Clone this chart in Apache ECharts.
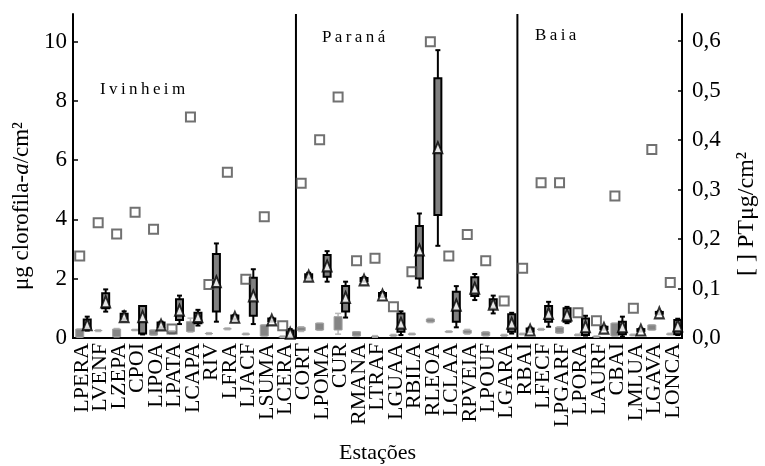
<!DOCTYPE html>
<html>
<head>
<meta charset="utf-8">
<script src="https://cdn.jsdelivr.net/npm/echarts@6/dist/echarts.min.js"></script>
<style>
  html, body { margin: 0; padding: 0; background: #fff; }
  #chart { width: 765px; height: 466px; }
</style>
</head>
<body>
<div id="chart"></div>
<script>
// estações (Ivinheim 0-11, Paraná 12-23, Baia 24-32)
var stations = ['LPERA', 'LVENF', 'LZEPA', 'CPOI', 'LIPOA', 'LPATA', 'LCAPA', 'RIV', 'LFRA', 'LJACF', 'LSUMA', 'LCERA',
    'CORT', 'LPOMA', 'CUR', 'RMANA', 'LTRAF', 'LGUAA', 'RBILA', 'RLEOA', 'LCLAA', 'RPVEIA', 'LPOUF', 'LGARA',
    'RBAI', 'LFECF', 'LPGARF', 'LPORA', 'LAURF', 'CBAI', 'LMLUA', 'LGAVA', 'LONCA'];

// clorofila-a (caixa escura)
var chlMin = [0.25, 0.89, 0.60, 0.12, 0.33, 0.47, 0.42, 0.55, 0.62, 0.47, 0.55, 0.00,
    2.00, 1.90, 0.69, 1.90, 1.38, 0.10, 1.70, 3.11, 0.36, 1.28, 0.83, 0.15,
    0.20, 0.38, 0.50, 0.08, 0.28, 0.05, 0.22, 0.80, 0.10];
var chlQ1 = [0.32, 1.00, 0.65, 0.15, 0.36, 0.61, 0.50, 0.89, 0.65, 0.75, 0.57, 0.02,
    2.03, 2.07, 0.89, 1.92, 1.40, 0.21, 2.01, 4.15, 0.55, 1.42, 1.00, 0.21,
    0.22, 0.55, 0.55, 0.10, 0.30, 0.13, 0.24, 0.82, 0.13];
var chlQ3 = [0.62, 1.51, 0.82, 1.08, 0.52, 1.31, 0.85, 2.83, 0.76, 2.03, 0.66, 0.25,
    2.15, 2.80, 1.75, 2.02, 1.52, 0.83, 3.78, 8.76, 1.56, 2.05, 1.31, 0.80,
    0.32, 1.08, 1.00, 0.66, 0.38, 0.55, 0.30, 0.88, 0.61];
var chlMax = [0.72, 1.64, 0.90, 1.08, 0.55, 1.43, 0.95, 3.19, 0.78, 2.32, 0.68, 0.30,
    2.20, 2.93, 1.90, 2.05, 1.55, 0.90, 4.20, 9.71, 1.75, 2.16, 1.43, 0.85,
    0.35, 1.22, 1.05, 0.75, 0.40, 0.72, 0.32, 0.90, 0.65];
var chlMedian = [0.45, 1.22, 0.72, 0.72, 0.44, 0.94, 0.72, 1.90, 0.70, 1.42, 0.61, 0.16,
    2.09, 2.43, 1.37, 1.96, 1.45, 0.50, 2.97, 6.42, 1.11, 1.68, 1.14, 0.50,
    0.27, 0.83, 0.78, 0.38, 0.33, 0.38, 0.27, 0.85, 0.41];

// caixa cinza
var grayMin = [0.03, 0.22, 0.04, 0.25, 0.10, 0.14, 0.20, 0.12, 0.28, 0.11, 0.07, 0.02,
    0.22, 0.26, 0.13, 0.07, 0.03, 0.06, 0.11, 0.52, 0.19, 0.13, 0.07, 0.06,
    0.11, 0.26, 0.16, 0.08, 0.03, 0.07, 0.08, 0.27, 0.11];
var grayQ1 = [0.03, 0.25, 0.05, 0.27, 0.10, 0.16, 0.22, 0.15, 0.31, 0.13, 0.07, 0.04,
    0.25, 0.27, 0.27, 0.07, 0.05, 0.09, 0.13, 0.54, 0.21, 0.16, 0.08, 0.09,
    0.13, 0.29, 0.17, 0.10, 0.05, 0.07, 0.10, 0.27, 0.13];
var grayQ3 = [0.30, 0.25, 0.30, 0.27, 0.27, 0.22, 0.55, 0.15, 0.31, 0.13, 0.44, 0.04,
    0.36, 0.50, 0.72, 0.21, 0.05, 0.09, 0.13, 0.64, 0.21, 0.26, 0.20, 0.09,
    0.13, 0.29, 0.36, 0.10, 0.05, 0.50, 0.10, 0.44, 0.13];
var grayMax = [0.30, 0.28, 0.32, 0.29, 0.27, 0.24, 0.67, 0.18, 0.34, 0.16, 0.44, 0.07,
    0.38, 0.50, 0.83, 0.21, 0.08, 0.12, 0.16, 0.66, 0.24, 0.29, 0.21, 0.12,
    0.16, 0.32, 0.38, 0.13, 0.07, 0.50, 0.13, 0.44, 0.16];

// PT (quadrados abertos, eixo da direita)
var ptValues = [0.166, 0.233, 0.210, 0.254, 0.220, 0.018, 0.447, 0.108, 0.335, 0.119, 0.245, 0.025,
    0.313, 0.401, 0.487, 0.156, 0.161, 0.063, 0.134, 0.599, 0.166, 0.209, 0.156, 0.075,
    0.141, 0.314, 0.314, 0.051, 0.035, 0.287, 0.060, 0.381, 0.112];

// divisões entre as regiões (índice da primeira estação)
var regionStarts = [12, 24];
var regionNames = ['I\u2009v\u2009i\u2009n\u2009h\u2009e\u2009i\u2009m', 'P\u2009a\u2009r\u2009a\u2009n\u2009á', 'B\u2009a\u2009i\u2009a'];

var SERIF = 'Liberation Serif';
var DARK_SHIFT = 5;
var GRAY_SHIFT = -2.5;

var darkData = stations.map(function (s, i) {
    return [i, chlMin[i], chlQ1[i], chlQ3[i], chlMax[i]];
});
var grayData = stations.map(function (s, i) {
    return [i, grayMin[i], grayQ1[i], grayQ3[i], grayMax[i]];
});
var sepData = regionStarts.map(function (i) { return [i, 0]; });

// desenha uma caixa com bigodes
function boxItem(api, shift, st) {
    var i = api.value(0);
    var x = api.coord([i, 0])[0] + shift;
    var yMin = api.coord([i, api.value(1)])[1];
    var yQ1 = api.coord([i, api.value(2)])[1];
    var yQ3 = api.coord([i, api.value(3)])[1];
    var yMax = api.coord([i, api.value(4)])[1];
    var ws = { stroke: st.whisker, lineWidth: st.wLine };
    var h = st.cap / 2;
    return {
        type: 'group',
        children: [
            { type: 'line', shape: { x1: x, y1: yMax, x2: x, y2: yQ3 }, style: ws },
            { type: 'line', shape: { x1: x, y1: yQ1, x2: x, y2: yMin }, style: ws },
            { type: 'line', shape: { x1: x - h, y1: yMax, x2: x + h, y2: yMax }, style: ws },
            { type: 'line', shape: { x1: x - h, y1: yMin, x2: x + h, y2: yMin }, style: ws },
            {
                type: 'rect',
                shape: { x: x - st.width / 2, y: yQ3, width: st.width, height: Math.max(yQ1 - yQ3, 0) },
                style: { fill: st.fill, stroke: st.stroke, lineWidth: st.bLine }
            }
        ]
    };
}

var myChart = echarts.init(document.getElementById('chart'));
var option = {
    animation: false,
    grid: { left: 73, right: 83, top: 14, bottom: 128, outerBoundsMode: 'none' },
    xAxis: [{
        type: 'category',
        data: stations,
        name: 'Estações',
        nameLocation: 'middle',
        nameGap: 104,
        nameTextStyle: { fontFamily: SERIF, fontSize: 22, color: '#000' },
        axisLine: { lineStyle: { color: '#000', width: 2 } },
        axisTick: { inside: true, length: 4, lineStyle: { color: '#000', width: 1.5 } },
        axisLabel: {
            interval: 0, rotate: 90, margin: 5, padding: [6, 0, 0, 0],
            fontFamily: SERIF, fontSize: 22, color: '#000'
        }
    }, {
        type: 'category',
        data: stations,
        position: 'top',
        axisLine: { lineStyle: { color: '#000', width: 2 } },
        axisTick: { inside: true, length: 4, lineStyle: { color: '#000', width: 1.5 } },
        axisLabel: { show: false }
    }],
    yAxis: [{
        type: 'value',
        min: 0,
        max: 10.93,
        interval: 2,
        name: '{n|μg clorofila-}{i|a}{n|/cm²}',
        nameLocation: 'middle',
        nameRotate: 90,
        nameGap: 38,
        nameTextStyle: {
            padding: [0, 60, 0, 0],
            rich: {
                n: { fontFamily: SERIF, fontSize: 23, color: '#000' },
                i: { fontFamily: SERIF, fontSize: 23, fontStyle: 'italic', color: '#000' }
            }
        },
        splitLine: { show: false },
        axisLine: { show: true, lineStyle: { color: '#000', width: 2 } },
        axisTick: { show: true, inside: true, length: 5, lineStyle: { color: '#000', width: 1.5 } },
        axisLabel: { margin: 6, showMaxLabel: false, fontFamily: SERIF, fontSize: 23, color: '#000' }
    }, {
        type: 'value',
        position: 'right',
        min: 0,
        max: 0.655,
        interval: 0.1,
        name: '[ ] PTμg/cm²',
        nameLocation: 'middle',
        nameRotate: 90,
        nameGap: 53,
        nameTextStyle: { fontFamily: SERIF, fontSize: 24, color: '#000', padding: [0, 76, 0, 0] },
        splitLine: { show: false },
        axisLine: { show: true, lineStyle: { color: '#000', width: 2 } },
        axisTick: { show: true, inside: true, length: 4, lineStyle: { color: '#000', width: 1.5 } },
        axisLabel: {
            margin: 10,
            showMaxLabel: false,
            fontFamily: SERIF,
            fontSize: 23,
            color: '#000',
            formatter: function (v) { return v.toFixed(1).replace('.', ','); }
        }
    }],
    graphic: [
        { type: 'text', left: 100, top: 81, style: { text: regionNames[0], font: '17px "Liberation Serif"', fill: '#000' } },
        { type: 'text', left: 322, top: 29, style: { text: regionNames[1], font: '17px "Liberation Serif"', fill: '#000' } },
        { type: 'text', left: 535, top: 27, style: { text: regionNames[2], font: '17px "Liberation Serif"', fill: '#000' } }
    ],
    series: [{
        // linhas de separação
        type: 'custom',
        data: sepData,
        encode: { x: 0, y: 1 },
        renderItem: function (params, api) {
            var i = api.value(0);
            var bw = api.size([1, 0])[0];
            var x = api.coord([i, 0])[0] - bw / 2 + 1.5;
            var cs = params.coordSys;
            return {
                type: 'line',
                shape: { x1: x, y1: cs.y, x2: x, y2: cs.y + cs.height },
                style: { stroke: '#000', lineWidth: 2 }
            };
        }
    }, {
        name: 'PT',
        type: 'scatter',
        yAxisIndex: 1,
        data: ptValues,
        symbol: 'rect',
        symbolSize: 9,
        symbolOffset: [GRAY_SHIFT, 0],
        itemStyle: { color: 'rgba(0,0,0,0)', borderColor: '#4d4d4d', borderWidth: 2 }
    }, {
        name: 'cinza',
        type: 'custom',
        data: grayData,
        encode: { x: 0, y: [1, 2, 3, 4] },
        renderItem: function (params, api) {
            return boxItem(api, GRAY_SHIFT, {
                width: 8, cap: 6, fill: '#858585', stroke: '#a0a0a0', bLine: 1,
                whisker: '#b8b8b8', wLine: 1.5
            });
        }
    }, {
        name: 'clorofila',
        type: 'custom',
        data: darkData,
        encode: { x: 0, y: [1, 2, 3, 4] },
        renderItem: function (params, api) {
            return boxItem(api, DARK_SHIFT, {
                width: 7, cap: 5, fill: '#808080', stroke: '#000', bLine: 2,
                whisker: '#000', wLine: 2
            });
        }
    }, {
        name: 'mediana',
        type: 'scatter',
        data: chlMedian,
        symbol: 'triangle',
        symbolSize: [9, 11],
        symbolOffset: [DARK_SHIFT, 0],
        itemStyle: { color: '#fff', borderColor: '#000', borderWidth: 2 }
    }]
};
myChart.setOption(option);
</script>
</body>
</html>
